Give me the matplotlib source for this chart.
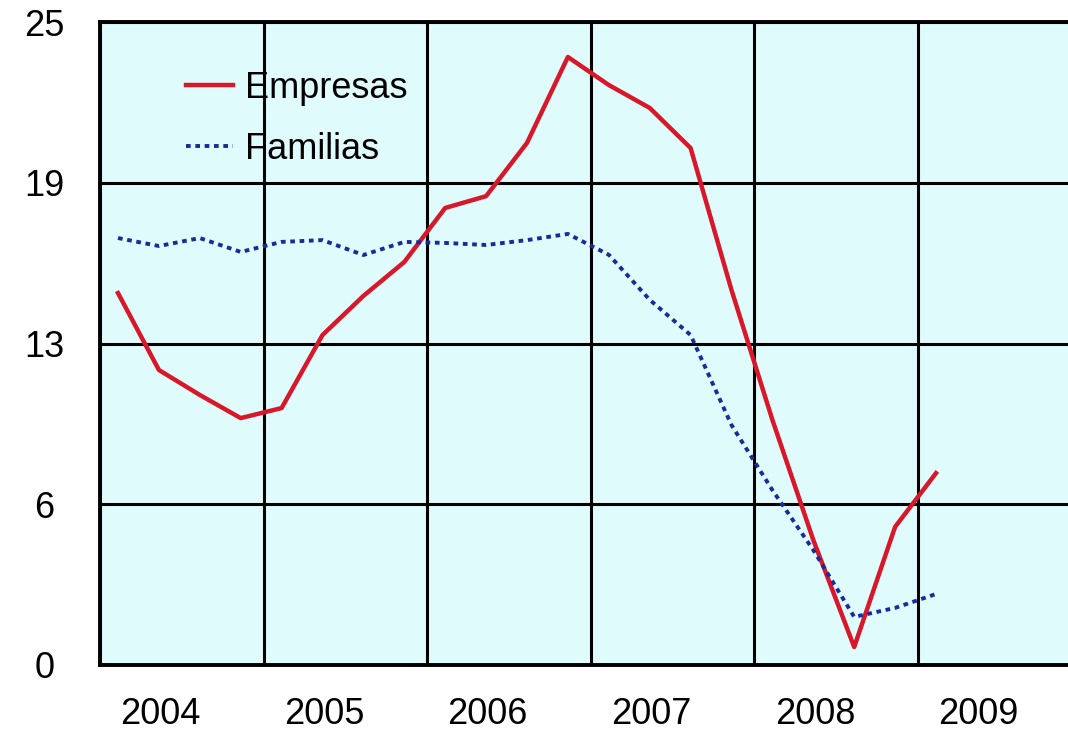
import matplotlib.pyplot as plt

# datos trimestrales (2004 - 2009)
trimestre = [0.11 + 0.25 * k for k in range(21)]
empresas = [14.46, 11.47, 10.5, 9.6, 9.99, 12.83, 14.35, 15.67, 17.77, 18.23, 20.3,
            23.64, 22.55, 21.66, 20.1, 14.58, 9.53, 4.86, 0.7, 5.37, 7.46]
familias = [16.6, 16.29, 16.6, 16.06, 16.45, 16.52, 15.94, 16.45, 16.41, 16.33, 16.52,
            16.76, 15.95, 14.2, 12.83, 9.33, 6.8, 4.47, 1.87, 2.22, 2.76]
anios = ['2004', '2005', '2006', '2007', '2008', '2009']
y_ticks = [0, 6.25, 12.5, 18.75, 25]
y_labels = ['0', '6', '13', '19', '25']

plt.rcParams['font.family'] = ['Liberation Sans', 'DejaVu Sans']

fig = plt.figure(figsize=(10.68, 7.31), dpi=100)
ax = fig.add_axes([100 / 1068, 1 - 665 / 731, 1 - 100 / 1068, (665 - 22) / 731])
ax.set_facecolor('#e0fbfb')

ax.plot(trimestre, empresas, color='#d8182a', linewidth=3.2, label='Empresas', zorder=3)
ax.plot(trimestre, familias, color='#1a2a9a', linewidth=2.8, linestyle=(0, (1.2, 1.2)),
        label='Familias', zorder=3)

ax.set_xlim(0, 968 / 163.6)
ax.set_ylim(0, 25)

# rejilla en los cortes de año, etiquetas desplazadas
ax.set_xticks(range(6))
ax.set_xticklabels([])
ax.set_xticks([i + 0.37 for i in range(6)], minor=True)
ax.set_xticklabels(anios, minor=True, fontsize=26)
ax.tick_params(axis='x', which='both', length=0)
ax.tick_params(axis='x', which='minor', pad=23)

ax.set_yticks(y_ticks)
ax.set_yticklabels(y_labels, fontsize=26, ha='center')
ax.tick_params(axis='y', length=0, pad=40)

ax.grid(True, which='major', color='black', linewidth=2.2)
for s in ['left', 'bottom', 'top']:
    ax.spines[s].set_linewidth(2.8)
ax.spines['right'].set_visible(False)

ax.legend(loc='upper left', bbox_to_anchor=(0.055, 0.975), frameon=False, fontsize=26,
          handlelength=1.3, handletextpad=0.35, labelspacing=0.72)

fig.savefig('out.png', dpi=100)
